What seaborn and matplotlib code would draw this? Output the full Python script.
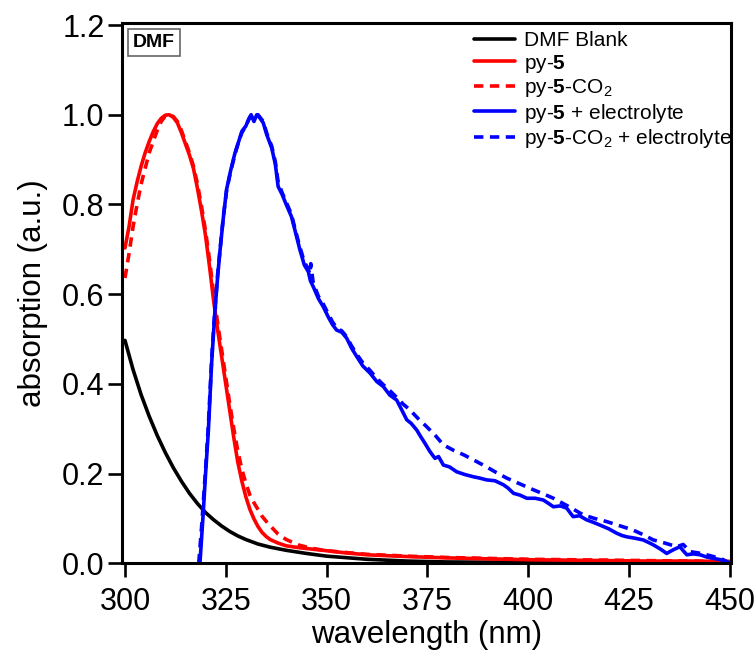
import matplotlib
matplotlib.use("Agg")
import matplotlib.pyplot as plt
import seaborn as sns

# ---------------- data ----------------
blank_wl = [300, 302, 304, 306, 308, 310, 312, 314, 316, 318, 320, 322, 324, 326, 328,
            330, 333, 336, 340, 345, 350, 360, 370, 380, 400, 425, 450]
blank_abs = [0.497, 0.432, 0.376, 0.328, 0.285, 0.247, 0.213, 0.183, 0.156, 0.133, 0.113,
             0.097, 0.083, 0.071, 0.061, 0.053, 0.043, 0.036, 0.029, 0.022, 0.016, 0.009,
             0.005, 0.003, 0.002, 0.001, 0.0]

py5_wl = [300, 301, 302, 303, 304, 305, 306, 307, 308, 309, 310, 311, 312, 313, 314, 315,
          316, 317, 318, 319, 320, 321, 322, 323, 324, 325, 326, 327, 328, 329, 330, 331,
          332, 333, 334, 335, 336, 338, 340, 343, 346, 350, 355, 360, 370, 380, 390, 400,
          410, 420, 430, 440, 450]
py5_abs = [0.703, 0.75, 0.81, 0.85, 0.885, 0.915, 0.94, 0.962, 0.98, 0.992, 0.999, 1.0,
           0.994, 0.982, 0.96, 0.935, 0.91, 0.88, 0.835, 0.785, 0.73, 0.66, 0.585, 0.52,
           0.46, 0.40, 0.34, 0.28, 0.225, 0.183, 0.148, 0.12, 0.099, 0.082, 0.069, 0.06,
           0.053, 0.045, 0.039, 0.035, 0.032, 0.028, 0.023, 0.019, 0.015, 0.012, 0.010,
           0.008, 0.007, 0.006, 0.005, 0.005, 0.004]

py5co2_wl = [300, 301, 302, 303, 304, 305, 306, 307, 308, 309, 310, 311, 312, 313, 314,
             315, 316, 317, 318, 319, 320, 321, 322, 323, 324, 325, 326, 327, 328, 329,
             330, 331, 332, 333, 334, 335, 336, 338, 340, 343, 346, 350, 355, 360, 370,
             380, 390, 400, 410, 420, 430, 440, 450]
py5co2_abs = [0.636, 0.69, 0.75, 0.80, 0.845, 0.88, 0.915, 0.94, 0.965, 0.985, 0.997, 1.0,
              0.996, 0.985, 0.965, 0.94, 0.915, 0.885, 0.845, 0.795, 0.74, 0.675, 0.60,
              0.535, 0.475, 0.415, 0.355, 0.30, 0.25, 0.21, 0.178, 0.152, 0.135, 0.12,
              0.105, 0.094, 0.084, 0.065, 0.053, 0.041, 0.034, 0.028, 0.024, 0.020, 0.016,
              0.013, 0.011, 0.009, 0.008, 0.007, 0.006, 0.005, 0.004]

py5_el_wl = [318.6, 319.4, 320, 320.7, 321.5, 322.3, 323, 323.6, 324.4, 325.2, 326.2, 327.3,
             328.2, 329, 330, 330.7, 331.3, 332, 332.7, 333.3, 334.3, 335.2, 336.4, 337.3,
             338, 339, 340, 341.3, 342.3, 343.4, 344.5, 345.5, 346, 346.7, 348, 349.2,
             350.5, 351.5, 352.5, 353.8, 355, 356.2, 357.5, 359, 360.8, 362.5, 364.1,
             365.7, 367.4, 368.5, 369.9, 371, 372.4, 373.4, 374.4, 375.6, 376.9, 377.8,
             379, 380.5, 382.3, 384.3, 386.4, 388, 389.7, 391.8, 393.9, 395, 396.4, 398,
             399.7, 401.8, 403.8, 405, 406.3, 408, 409.6, 410.5, 411.2, 412.8, 414.5, 416,
             417.9, 420, 422, 423.3, 424.5, 426.5, 428.6, 430, 431.1, 432.8, 434.4, 436,
             437.7, 438.5, 439.4, 441, 442.7, 444.3, 446, 447.8, 449.3, 450]
py5_el_abs = [0.0, 0.11, 0.2, 0.297, 0.446, 0.56, 0.64, 0.699, 0.77, 0.833, 0.875, 0.915,
              0.94, 0.963, 0.975, 0.99, 1.0, 0.985, 1.0, 0.995, 0.982, 0.955, 0.926, 0.89,
              0.84, 0.822, 0.80, 0.773, 0.738, 0.699, 0.665, 0.65, 0.63, 0.617, 0.59, 0.572,
              0.548, 0.532, 0.520, 0.515, 0.502, 0.48, 0.461, 0.44, 0.424, 0.405, 0.394,
              0.375, 0.364, 0.345, 0.320, 0.312, 0.297, 0.282, 0.268, 0.25, 0.234, 0.238,
              0.219, 0.215, 0.204, 0.198, 0.193, 0.19, 0.186, 0.184, 0.175, 0.168, 0.156,
              0.152, 0.145, 0.145, 0.141, 0.134, 0.126, 0.128, 0.123, 0.112, 0.104, 0.106,
              0.097, 0.092, 0.085, 0.077, 0.067, 0.062, 0.059, 0.056, 0.052, 0.046, 0.041,
              0.032, 0.022, 0.03, 0.037, 0.028, 0.019, 0.021, 0.019, 0.014, 0.011, 0.008,
              0.003, 0.0]

py5co2_el_wl = [318.3, 319, 320, 320.7, 321.5, 322.3, 323, 323.6, 324.4, 325.2, 326.2,
                327.3, 328.2, 329, 330, 331, 332, 333, 334.3, 335.2, 336.4, 337.3, 338,
                339, 340, 341.3, 342.3, 343.4, 344.5, 345.5, 345.9, 346.1, 346.7, 348,
                349.2, 350.5, 351.5, 352.5, 353.8, 355, 356.2, 357.5, 359, 360.8, 362.5,
                364.1, 365.7, 367.4, 369, 370.7, 372.8, 374.8, 377, 379, 381.5, 384, 387,
                389.7, 392, 394.7, 398, 401.3, 404, 406.3, 410, 413.7, 416.5, 419.5, 423,
                426.1, 428.5, 431.1, 434, 436.9, 438.5, 440.2, 443, 446, 448, 449.3, 450]
py5co2_el_abs = [0.0, 0.08, 0.21, 0.31, 0.455, 0.565, 0.645, 0.70, 0.772, 0.83, 0.873,
                 0.912, 0.94, 0.96, 0.975, 0.995, 0.99, 1.0, 0.985, 0.958, 0.93, 0.895,
                 0.85, 0.826, 0.805, 0.778, 0.742, 0.705, 0.672, 0.655, 0.645, 0.668,
                 0.625, 0.595, 0.578, 0.555, 0.538, 0.525, 0.518, 0.505, 0.485, 0.466,
                 0.447, 0.43, 0.412, 0.398, 0.385, 0.37, 0.355, 0.342, 0.322, 0.305,
                 0.285, 0.264, 0.252, 0.242, 0.228, 0.215, 0.203, 0.19, 0.177, 0.164,
                 0.154, 0.145, 0.127, 0.108, 0.1, 0.093, 0.083, 0.074, 0.064, 0.052,
                 0.045, 0.037, 0.042, 0.026, 0.022, 0.015, 0.01, 0.004, 0.0]

labels = ["DMF Blank", r"py-$\mathbf{5}$", r"py-$\mathbf{5}$-CO$_2$",
          r"py-$\mathbf{5}$ + electrolyte", r"py-$\mathbf{5}$-CO$_2$ + electrolyte"]
x_ticks = [300, 325, 350, 375, 400, 425, 450]
y_ticks = [0.0, 0.2, 0.4, 0.6, 0.8, 1.0, 1.2]

# ---------------- style ----------------
sns.set_style("ticks")
plt.rcParams["font.family"] = ["Liberation Sans", "DejaVu Sans"]
plt.rcParams["mathtext.fontset"] = "custom"
plt.rcParams["mathtext.rm"] = "Liberation Sans"
plt.rcParams["mathtext.it"] = "Liberation Sans:italic"
plt.rcParams["mathtext.bf"] = "Liberation Sans:bold"
for key in ["text.color", "axes.labelcolor", "xtick.color", "ytick.color",
            "axes.edgecolor"]:
    plt.rcParams[key] = "black"

fig = plt.figure(figsize=(7.56, 6.61), dpi=100)
ax = fig.add_axes([0.162, 0.1478, 0.805, 0.8174])

lw = 2.6
dash = (0, (2.6, 1.8))
series = [
    (blank_wl, blank_abs, "black", "-"),
    (py5_wl, py5_abs, "#ff0000", "-"),
    (py5co2_wl, py5co2_abs, "#ff0000", dash),
    (py5_el_wl, py5_el_abs, "#0000ff", "-"),
    (py5co2_el_wl, py5co2_el_abs, "#0000ff", dash),
]
for (xs, ys, col, ls), lab in zip(series, labels):
    sns.lineplot(x=xs, y=ys, ax=ax, color=col, linestyle=ls, linewidth=lw,
                 label=lab, sort=False, estimator=None)

ax.set_xlim(299.38, 450.37)
ax.set_ylim(0.0, 1.2045)
ax.set_xticks(x_ticks)
ax.set_yticks(y_ticks)
ax.set_yticklabels([f"{v:.1f}" for v in y_ticks])
ax.set_xticklabels([str(v) for v in x_ticks])

for s in ax.spines.values():
    s.set_visible(True)
    s.set_linewidth(2.2)
    s.set_color("black")
ax.tick_params(axis="both", direction="out", length=10, width=1.9, labelsize=22,
               colors="black", top=False, right=False)
ax.tick_params(axis="x", pad=7)
ax.tick_params(axis="y", pad=3)

ax.set_xlabel("wavelength (nm)", fontsize=22.5, labelpad=2)
ax.set_ylabel("absorption (a.u.)", fontsize=22.5, labelpad=10)

leg = ax.legend(loc="upper left", bbox_to_anchor=(0.578, 0.985), frameon=False,
                fontsize=15, borderpad=0, borderaxespad=0, handlelength=1.95,
                handletextpad=0.45, labelspacing=0.12)
for t in leg.get_texts():
    t.set_color("black")

ax.text(0.0518, 0.964, "DMF", transform=ax.transAxes, ha="center", va="center",
        fontsize=14, fontweight="bold", color="black",
        bbox=dict(boxstyle="square,pad=0.28", fc="white", ec="#666666", lw=1.2))

fig.savefig("out.png", dpi=100)
